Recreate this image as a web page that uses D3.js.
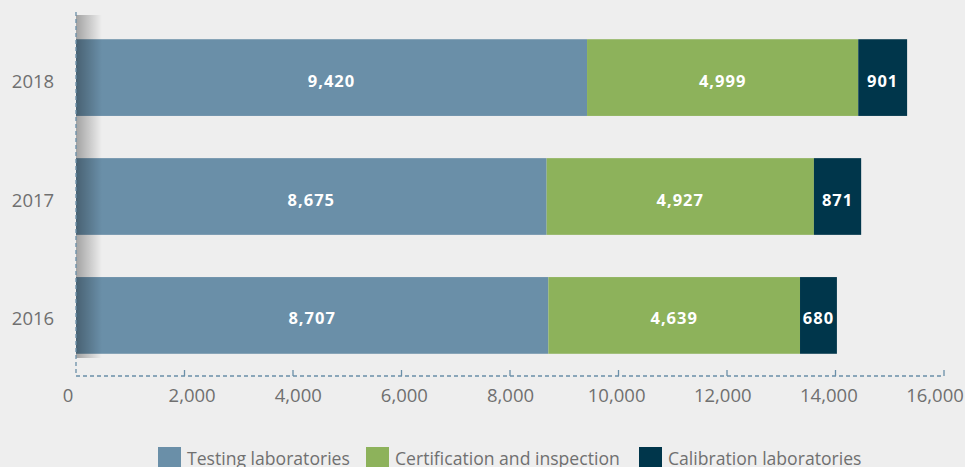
<!DOCTYPE html>
<html>
<head>
<meta charset="utf-8">
<script src="https://cdn.jsdelivr.net/npm/d3@7"></script>
<style>
  body { margin: 0; background: #eeeeee; }
  svg { display: block; }
</style>
</head>
<body>
<div id="container"></div>
<script>
const years = ["2018", "2017", "2016"];
const seriesNames = ["Testing laboratories", "Certification and inspection", "Calibration laboratories"];
const testing = [9420, 8675, 8707];
const certification = [4999, 4927, 4639];
const calibration = [901, 871, 680];
const tickValues = [0, 2000, 4000, 6000, 8000, 10000, 12000, 14000, 16000];
const colors = ["#6a8fa8", "#8db25b", "#00364b"];

const width = 965, height = 467;
const plotLeft = 76, plotRight = 944, plotTop = 19, plotBottom = 376;
const font = "'Open Sans', sans-serif";
const textGray = "#707070";

const svg = d3.select("#container").append("svg")
    .attr("width", width)
    .attr("height", height);

svg.append("rect").attr("width", width).attr("height", height).attr("fill", "#eeeeee");

const x = d3.scaleLinear().domain([0, 16000]).range([plotLeft, plotRight]);
// tick labels sit on a slightly narrower spread than the ticks themselves
const xLabel = d3.scaleLinear().domain([0, 16000]).range([86, 935]);
const y = d3.scaleBand().domain(years).range([plotTop, plotBottom - 2]).paddingInner(0.355).paddingOuter(0.17);

// rows for stacking
const rows = years.map((yr, i) => ({
    year: yr,
    [seriesNames[0]]: testing[i],
    [seriesNames[1]]: certification[i],
    [seriesNames[2]]: calibration[i]
}));
const stacked = d3.stack().keys(seriesNames)(rows);

// shadow gradient at left edge
const defs = svg.append("defs");
const grad = defs.append("linearGradient").attr("id", "shade");
grad.append("stop").attr("offset", "0%").attr("stop-color", "#000").attr("stop-opacity", 0.32);
grad.append("stop").attr("offset", "100%").attr("stop-color", "#000").attr("stop-opacity", 0);

const layers = svg.append("g").selectAll("g")
    .data(stacked)
    .join("g")
    .attr("fill", (d, i) => colors[i]);

layers.selectAll("rect")
    .data(d => d)
    .join("rect")
    .attr("x", d => x(d[0]))
    .attr("y", d => y(d.data.year))
    .attr("width", d => x(d[1]) - x(d[0]))
    .attr("height", y.bandwidth());

// value labels
const labels = svg.append("g");
stacked.forEach(layer => {
    labels.selectAll(null)
        .data(layer)
        .join("text")
        .attr("x", d => (x(d[0]) + x(d[1])) / 2)
        .attr("y", d => y(d.data.year) + y.bandwidth() / 2 + 9)
        .attr("text-anchor", "middle")
        .attr("fill", "#ffffff")
        .attr("font-family", font)
        .attr("font-weight", "bold")
        .attr("font-size", 16.5)
        .attr("letter-spacing", 1)
        .text(d => d3.format(",")(d[1] - d[0]));
});

// left shadow strip
svg.append("rect")
    .attr("x", plotLeft).attr("y", 15)
    .attr("width", 26).attr("height", 343)
    .attr("fill", "url(#shade)");

// left dashed line
svg.append("line")
    .attr("x1", plotLeft).attr("x2", plotLeft)
    .attr("y1", 12).attr("y2", plotBottom)
    .attr("stroke", "#6a8fa8").attr("stroke-width", 1.3)
    .attr("stroke-dasharray", "4,3");

// bottom axis
const axis = svg.append("g").attr("transform", `translate(0,${plotBottom})`);
axis.append("line")
    .attr("x1", plotLeft).attr("x2", plotRight)
    .attr("stroke", "#6a8fa8").attr("stroke-width", 1.3)
    .attr("stroke-dasharray", "4,3");
axis.selectAll(".tick")
    .data(tickValues.slice(1))
    .join("line")
    .attr("x1", d => x(d)).attr("x2", d => x(d))
    .attr("y1", -6).attr("y2", 0)
    .attr("stroke", "#6a8fa8").attr("stroke-width", 1.3);
axis.selectAll("text")
    .data(tickValues)
    .join("text")
    .attr("x", d => d === 0 ? x(d) - 8 : xLabel(d))
    .attr("y", 26)
    .attr("text-anchor", "middle")
    .attr("fill", textGray)
    .attr("font-family", font)
    .attr("font-size", 18.5)
    .text(d => d3.format(",")(d));

// year labels
svg.append("g").selectAll("text")
    .data(years)
    .join("text")
    .attr("x", 33)
    .attr("y", d => y(d) + y.bandwidth() / 2 + 10)
    .attr("text-anchor", "middle")
    .attr("fill", textGray)
    .attr("font-family", font)
    .attr("font-size", 18.5)
    .text(d => d);

// legend
const legendX = [158, 366, 639];
const legend = svg.append("g").selectAll("g")
    .data(seriesNames)
    .join("g")
    .attr("transform", (d, i) => `translate(${legendX[i]},447)`);
legend.append("rect")
    .attr("width", 23).attr("height", 22)
    .attr("fill", (d, i) => colors[i]);
legend.append("text")
    .attr("x", 29).attr("y", 17.5)
    .attr("fill", textGray)
    .attr("font-family", font)
    .attr("font-size", 17.6)
    .text(d => d);
</script>
</body>
</html>
